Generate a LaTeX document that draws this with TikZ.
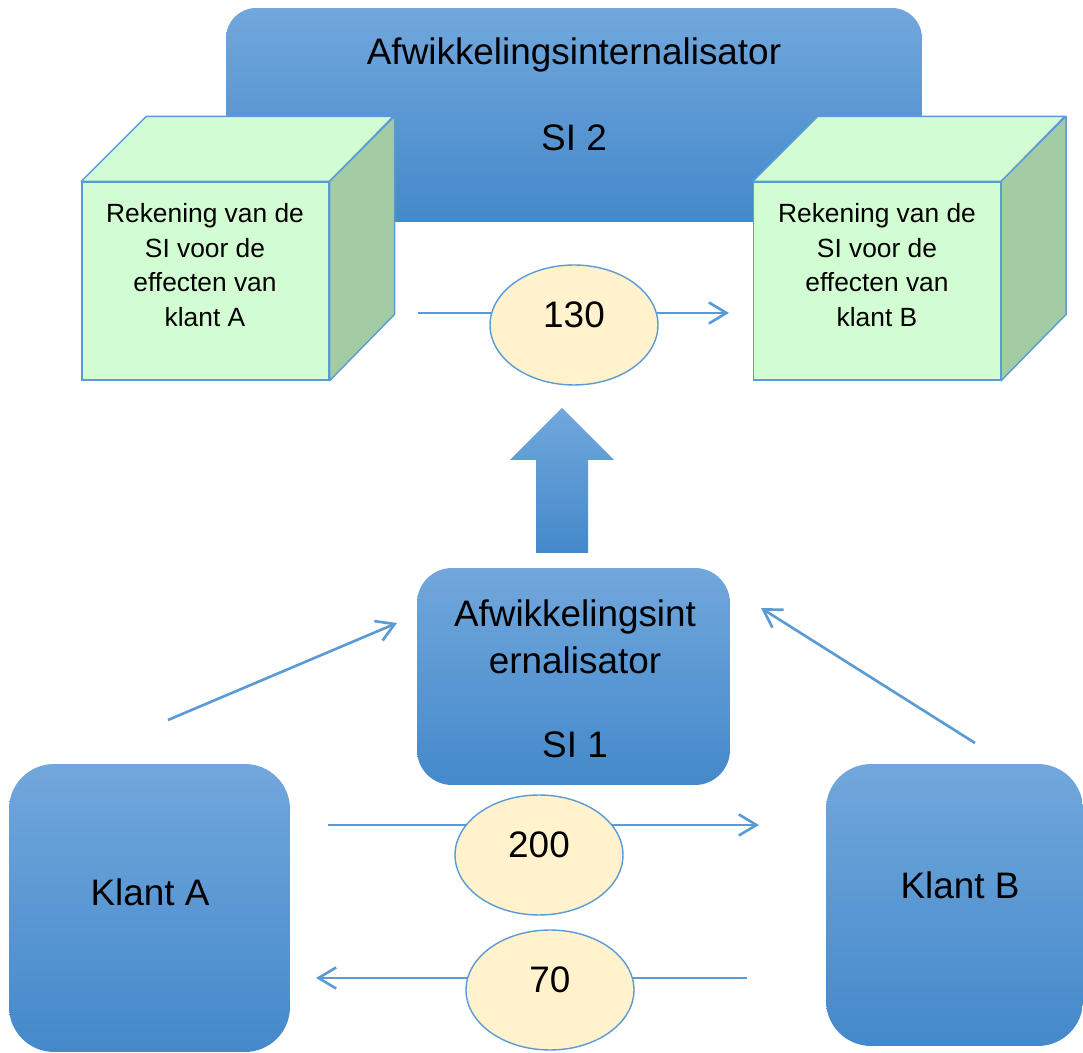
\documentclass[tikz,border=0pt]{standalone}
\usepackage{fontspec}
\setmainfont{Liberation Sans}
\usetikzlibrary{arrows.meta, shapes.geometric}
\definecolor{lineblue}{RGB}{91,155,213}
\definecolor{boxtop}{RGB}{113,167,220}
\definecolor{boxbot}{RGB}{68,137,202}
\definecolor{cubefront}{RGB}{210,252,210}
\definecolor{cubeside}{RGB}{164,204,164}
\definecolor{valfill}{RGB}{255,242,204}
\tikzset{
  party/.style={
    rectangle, draw=none, inner sep=0pt,
    top color=boxtop, bottom color=boxbot
  },
  front/.style={
    rectangle, draw=lineblue, line width=0.8pt, fill=cubefront,
    minimum width=4.94cm, minimum height=3.96cm, inner sep=0pt
  },
  face/.style={draw=lineblue, line width=0.8pt, line join=round},
  val/.style={
    ellipse, draw=lineblue, line width=0.8pt, fill=valfill,
    minimum width=3.36cm, minimum height=2.4cm
  },
  big/.style ={font=\fontsize{21}{27}\selectfont, align=center, inner sep=0pt},
  small/.style={font=\fontsize{15}{19.8}\selectfont, align=center, inner sep=0pt},
  arr/.style ={-{Straight Barb[length=10pt,width=12pt]}, draw=lineblue, line width=1.5pt},
  flow/.style={draw=lineblue, line width=1.5pt},
}

\begin{document}
\begin{tikzpicture}[x=0.02cm, y=-0.02cm]
\useasboundingbox (0,0) rectangle (1083,1053);

%% -- SI 2 (top) -------------------------------------------------------------
\node[party, rounded corners=0.6cm, minimum width=13.92cm, minimum height=4.28cm]
  (si2) at (574,115) {};
\node[big] (si2name) at (574,55) {Afwikkelingsinternalisator};
\node[big] (si2code) at (574,138) {SI 2};

%% -- Accounts (cubes) -------------------------------------------------------
\node[front] (accA) at (205.5,281) {};
\node[front] (accB) at (877,281) {};
\foreach \acc in {accA, accB} {
  \filldraw[face, fill=cubefront] (\acc.north west) -- ++(65,-65) -- ++(247,0)
    -- (\acc.north east) -- cycle;
  \filldraw[face, fill=cubeside] (\acc.north east) -- ++(65,-65) -- ++(0,198)
    -- (\acc.south east) -- cycle;
}
\node[small] (accAtxt) at (205,265) {Rekening van de\\SI voor de\\effecten van\\klant A};
\node[small] (accBtxt) at (877,265) {Rekening van de\\SI voor de\\effecten van\\klant B};

%% -- Transfer inside SI 2 ---------------------------------------------------
\coordinate (t130s) at (418,313);
\coordinate (t130e) at (729,313);
\draw[arr] (t130s) -- (t130e);
\node[val] (v130) at (574,325) {};
\node[big] at ([shift={(0,-10)}]v130.center) {130};

%% -- Block arrow SI 1 -> SI 2 -----------------------------------------------
\shade[top color=boxtop, bottom color=boxbot]
  (536,553) -- (536,460) -- (510,460) -- (562,408) -- (614,460)
  -- (588,460) -- (588,553) -- cycle;

%% -- SI 1 and clients -------------------------------------------------------
\node[party, rounded corners=0.7cm, minimum width=6.26cm, minimum height=4.34cm]
  (si1) at (573.5,676.5) {};
\node[big] (si1name) at (575,637) {Afwikkelingsint\\ernalisator};
\node[big] (si1code) at (575,745) {SI 1};

\node[party, rounded corners=0.9cm, minimum width=5.62cm, minimum height=5.76cm]
  (klantA) at (149.5,908) {};
\node[big] at (150,892) {Klant A};
\node[party, rounded corners=0.9cm, minimum width=5.14cm, minimum height=5.64cm]
  (klantB) at (954.5,905) {};
\node[big] at (960,885) {Klant B};

%% -- Client -> SI 1 ---------------------------------------------------------
\coordinate (inA) at (168,720);
\coordinate (toSIa) at (397,623);
\coordinate (inB) at (975,743);
\coordinate (toSIb) at (761,608);
\draw[arr] (inA) -- (toSIa);
\draw[arr] (inB) -- (toSIb);

%% -- Payments between clients -----------------------------------------------
\coordinate (p200s) at (328,825);
\coordinate (p200e) at (759,825);
\draw[arr] (p200s) -- (p200e);
\node[val] (v200) at (539,855) {};
\node[big] at ([shift={(0,-10)}]v200.center) {200};

\coordinate (p70s) at (747,978);
\coordinate (p70e) at (316,978);
\draw[arr] (p70s) -- (p70e);
\node[val] (v70) at (550,990) {};
\node[big] at ([shift={(0,-10)}]v70.center) {70};

\end{tikzpicture}
\end{document}
